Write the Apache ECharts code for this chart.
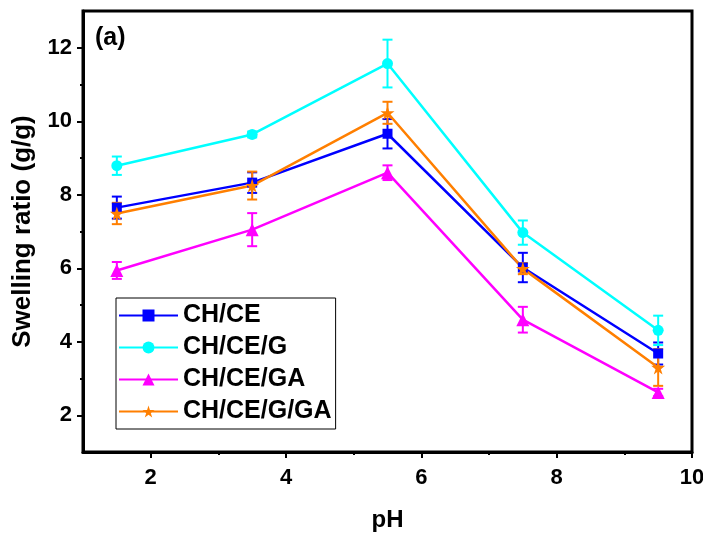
<!DOCTYPE html>
<html>
<head>
<meta charset="utf-8">
<script src="https://cdn.jsdelivr.net/npm/echarts@6/dist/echarts.min.js"></script>
<style>html,body{margin:0;padding:0;background:#fff}#c{width:703px;height:533px}</style>
</head>
<body>
<div id="c"></div>
<script>
const pH = [1.5, 3.5, 5.5, 7.5, 9.5];
const seriesNames = ['CH/CE', 'CH/CE/G', 'CH/CE/GA', 'CH/CE/G/GA'];
const valCHCE = [7.65, 8.33, 9.66, 6.02, 3.68];
const errCHCE = [0.30, 0.28, 0.40, 0.40, 0.30];
const valCHCEG = [8.79, 9.64, 11.57, 6.97, 4.31];
const errCHCEG = [0.25, 0.08, 0.65, 0.33, 0.40];
const valCHCEGA = [5.94, 7.05, 8.60, 4.60, 2.62];
const errCHCEGA = [0.23, 0.45, 0.20, 0.35, 0.10];
const valCHCEGGA = [7.49, 8.25, 10.23, 5.99, 3.30];
const errCHCEGGA = [0.29, 0.38, 0.30, 0.15, 0.50];
const xMajorTicks = [2, 4, 6, 8, 10];
const xMinorTicks = [3, 5, 7, 9];
const yMajorTicks = [2, 4, 6, 8, 10, 12];
const yMinorTicks = [3, 5, 7, 9, 11];

const colors = ['#0000FF', '#00FFFF', '#FF00FF', '#FF7F00'];
const STAR = 'path://M1,0L1.225,0.691L1.951,0.691L1.363,1.118L1.588,1.809L1,1.382L0.412,1.809L0.637,1.118L0.049,0.691L0.775,0.691Z';
const symbols = ['rect', 'circle', 'triangle', STAR];
const symSizes = [10, 11, 13, 14];
const vals = [valCHCE, valCHCEG, valCHCEGA, valCHCEGGA];
const errs = [errCHCE, errCHCEG, errCHCEGA, errCHCEGGA];
const FONT = 'Liberation Sans, Arial, sans-serif';

const chart = echarts.init(document.getElementById('c'));
const series = [];
vals.forEach((v, i) => {
  series.push({
    type: 'custom',
    name: seriesNames[i] + ' err',
    xAxisIndex: 0, yAxisIndex: 0,
    data: pH.map((x, k) => [x, v[k] - errs[i][k], v[k] + errs[i][k]]),
    encode: {x: 0, y: [1, 2]},
    z: 3,
    silent: true,
    renderItem: function (params, api) {
      const x = api.value(0);
      const lo = api.coord([x, api.value(1)]);
      const hi = api.coord([x, api.value(2)]);
      const hw = 5;
      const st = {stroke: colors[i], lineWidth: 2};
      return {
        type: 'group',
        children: [
          {type: 'line', shape: {x1: lo[0], y1: lo[1], x2: hi[0], y2: hi[1]}, style: st},
          {type: 'line', shape: {x1: lo[0] - hw, y1: lo[1], x2: lo[0] + hw, y2: lo[1]}, style: st},
          {type: 'line', shape: {x1: hi[0] - hw, y1: hi[1], x2: hi[0] + hw, y2: hi[1]}, style: st}
        ]
      };
    }
  });
});
vals.forEach((v, i) => {
  series.push({
    type: 'line',
    name: seriesNames[i],
    xAxisIndex: 0, yAxisIndex: 0,
    data: pH.map((x, k) => [x, v[k]]),
    symbol: symbols[i],
    symbolSize: symSizes[i],
    showAllSymbol: true,
    color: colors[i],
    lineStyle: {color: colors[i], width: 2.5},
    itemStyle: {color: colors[i]},
    z: 4
  });
});

const labelStyle = {color: '#000', fontFamily: FONT, fontWeight: 'bold', fontSize: 22};
chart.setOption({
  animation: false,
  backgroundColor: '#fff',
  grid: {left: 83, right: 11, top: 11, bottom: 81, outerBoundsMode: 'none', containLabel: false, show: true, borderColor: '#000', borderWidth: 3, backgroundColor: 'transparent'},
  legend: {
    data: seriesNames,
    orient: 'vertical',
    left: 116, top: 298,
    padding: [5, 4, 5, 2],
    itemGap: 7,
    itemWidth: 59,
    itemHeight: 15,
    borderColor: '#000', borderWidth: 1,
    backgroundColor: '#fff',
    textStyle: {color: '#000', fontFamily: FONT, fontWeight: 'bold', fontSize: 25},
    selectedMode: false
  },
  xAxis: [
    {
      type: 'value', min: 1, max: 10, interval: 1, position: 'bottom',
      name: 'pH', nameLocation: 'middle', nameGap: 56,
      nameTextStyle: {color: '#000', fontFamily: FONT, fontWeight: 'bold', fontSize: 24},
      axisLine: {show: true, lineStyle: {color: '#000', width: 3}},
      axisTick: {show: true, customValues: xMajorTicks, length: 6, lineStyle: {color: '#000', width: 2}},
      axisLabel: Object.assign({customValues: xMajorTicks, margin: 15}, labelStyle),
      splitLine: {show: false}
    },
    {
      type: 'value', min: 1, max: 10, interval: 1, position: 'bottom',
      axisLine: {show: false},
      axisTick: {show: true, customValues: xMinorTicks, length: 3, lineStyle: {color: '#000', width: 2}},
      axisLabel: {show: false},
      splitLine: {show: false}
    }
  ],
  yAxis: [
    {
      type: 'value', min: 1, max: 13, interval: 1, position: 'left',
      name: 'Swelling ratio (g/g)', nameLocation: 'middle', nameGap: 47, nameRotate: 90,
      nameTextStyle: {color: '#000', fontFamily: FONT, fontWeight: 'bold', fontSize: 26},
      axisLine: {show: true, lineStyle: {color: '#000', width: 3}},
      axisTick: {show: true, customValues: yMajorTicks, length: 6, lineStyle: {color: '#000', width: 2}},
      axisLabel: Object.assign({customValues: yMajorTicks, margin: 11}, labelStyle),
      splitLine: {show: false}
    },
    {
      type: 'value', min: 1, max: 13, interval: 1, position: 'left',
      axisLine: {show: false},
      axisTick: {show: true, customValues: yMinorTicks, length: 3, lineStyle: {color: '#000', width: 2}},
      axisLabel: {show: false},
      splitLine: {show: false}
    }
  ],
  graphic: [
    {type: 'text', left: 95, top: 26, style: {text: '(a)', fill: '#000', font: 'bold 25px ' + FONT}}
  ],
  series: series
});
</script>
</body>
</html>
